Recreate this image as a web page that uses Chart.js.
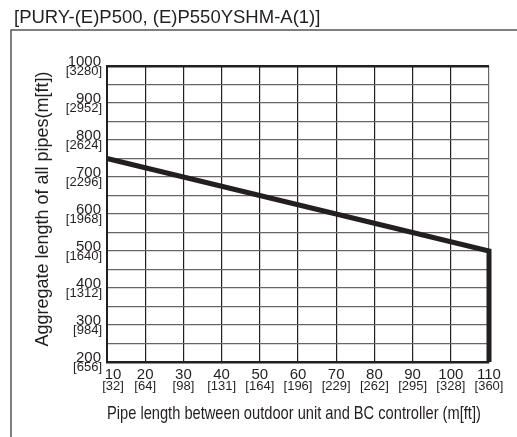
<!DOCTYPE html>
<html>
<head>
<meta charset="utf-8">
<script src="https://cdn.jsdelivr.net/npm/chart.js@4"></script>
<style>
  html, body { margin: 0; padding: 0; background: #fff; }
  canvas { display: block; }
</style>
</head>
<body>
<canvas id="myChart" width="517" height="437"></canvas>
<script>
/* Data */
const pipeLength = [10, 110, 110];        // m
const aggregateLength = [750, 500, 200];  // m
const xTicksM = [10, 20, 30, 40, 50, 60, 70, 80, 90, 100, 110];
const xTicksFt = ['[32]', '[64]', '[98]', '[131]', '[164]', '[196]', '[229]', '[262]', '[295]', '[328]', '[360]'];
const yTicksM = [200, 300, 400, 500, 600, 700, 800, 900, 1000];
const yTicksFt = ['[656]', '[984]', '[1312]', '[1640]', '[1968]', '[2296]', '[2624]', '[2952]', '[3280]'];

let ink = '#231f20';
let gridGray = '#666666';
const fontFamily = '"Liberation Sans", Arial, sans-serif';

/* outer frame of the figure */
const framePlugin = {
  id: 'frame',
  beforeDraw(chart) {
    const c = chart.ctx;
    c.save();
    c.strokeStyle = '#555555';
    c.lineWidth = 1.5;
    c.beginPath();
    c.moveTo(517, 30);
    c.lineTo(11, 30);
    c.lineTo(11, 437);
    c.stroke();
    c.restore();
  }
};

/* two-size tick labels: metres big, feet in brackets smaller */
const tickLabelPlugin = {
  id: 'tickLabels',
  afterDraw(chart) {
    const c = chart.ctx;
    const xs = chart.scales.x;
    const ys = chart.scales.y;
    const area = chart.chartArea;
    c.save();
    c.fillStyle = ink;
    c.textBaseline = 'alphabetic';

    c.textAlign = 'right';
    yTicksM.forEach((v, i) => {
      const py = ys.getPixelForValue(v);
      c.font = '15px ' + fontFamily;
      c.fillText(String(v), area.left - 6, py);
      c.font = '13px ' + fontFamily;
      c.fillText(yTicksFt[i], area.left - 5, py + 9);
    });

    c.textAlign = 'center';
    xTicksM.forEach((v, i) => {
      const px = xs.getPixelForValue(v) + (i === 0 ? 6 : 0);
      c.font = '15px ' + fontFamily;
      c.fillText(String(v), px, area.bottom + 17);
      c.font = '13px ' + fontFamily;
      c.fillText(xTicksFt[i], px, area.bottom + 28);
    });
    c.restore();
  }
};

const points = pipeLength.map((x, i) => ({ x: x, y: aggregateLength[i] }));

const chartConfig = {
  type: 'line',
  data: {
    datasets: [{
      data: points,
      borderColor: ink,
      borderWidth: 5,
      pointRadius: 0,
      borderJoinStyle: 'miter',
      borderCapStyle: 'butt',
      tension: 0,
      clip: false,
    }],
  },
  options: {
    responsive: false,
    animation: false,
    layout: { padding: { left: 14, right: 28, top: 0, bottom: 0 } },
    plugins: {
      legend: { display: false },
      tooltip: { enabled: false },
      title: {
        display: true,
        text: '[PURY-(E)P500, (E)P550YSHM-A(1)]',
        align: 'start',
        color: ink,
        font: { family: fontFamily, size: 18.5, weight: 'normal', lineHeight: 1.2 },
        padding: { top: 7, bottom: 36.8 },
      },
    },
    scales: {
      x: {
        type: 'linear',
        min: 10,
        max: 110,
        afterFit(s) { s.height = 75; },
        afterBuildTicks(s) { s.ticks = xTicksM.map(v => ({ value: v })); },
        ticks: { display: false },
        grid: {
          drawTicks: false,
          color: (ctx) => (ctx.tick && ctx.tick.value === 110 ? gridGray : ink),
          lineWidth: 1.2,
        },
        border: { color: ink, width: 2.5 },
        title: {
          display: true,
          text: 'Pipe length between outdoor unit and BC controller (m[ft])  ',
          color: ink,
          font: { family: fontFamily, size: 19, lineHeight: 1.2 },
          padding: { top: 0, bottom: 11.6 },
        },
      },
      y: {
        min: 200,
        max: 1000,
        afterFit(s) { s.width = 93; },
        ticks: {
          display: false,
          stepSize: 50,
        },
        grid: {
          drawTicks: false,
          color: (ctx) => (ctx.tick && ctx.tick.value === 1000 ? ink : gridGray),
          lineWidth: (ctx) => (ctx.tick && ctx.tick.value === 1000 ? 2.5 : 1.2),
        },
        border: { color: ink, width: 2 },
        title: {
          display: true,
          text: '  Aggregate length of all pipes(m[ft])',
          color: ink,
          font: { family: fontFamily, size: 18, lineHeight: 1.2 },
          padding: { top: 18, bottom: 0 },
        },
      },
    },
  },
  plugins: [framePlugin, tickLabelPlugin],
};

const ctx = document.getElementById('myChart').getContext('2d');
const myChart = new Chart(ctx, chartConfig);
</script>
</body>
</html>
